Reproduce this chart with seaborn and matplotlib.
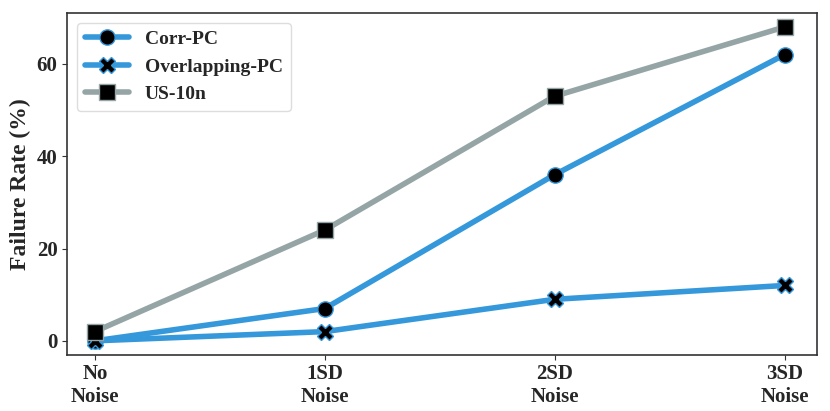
import numpy as np
import matplotlib.pyplot as plt
import pandas as pd
import seaborn as sns

niveis = ["No\nNoise", "1SD\nNoise", "2SD\nNoise", "3SD\nNoise"]
corr_pc = [0, 7, 36, 62]
overlapping_pc = [0, 2, 9, 12]
us_10n = [2, 24, 53, 68]

series = {"Corr-PC": corr_pc, "Overlapping-PC": overlapping_pc, "US-10n": us_10n}
linhas = []
for nome, valores in series.items():
    for i, v in enumerate(valores):
        linhas.append({"x": i, "taxa": v, "metodo": nome})
df = pd.DataFrame(linhas)

sns.set_style("ticks")
plt.rcParams['font.family'] = ['Liberation Serif', 'DejaVu Serif']
plt.rcParams['font.weight'] = 'bold'

cores = {"Corr-PC": "#3498db", "Overlapping-PC": "#3498db", "US-10n": "#95a5a6"}
marcadores = {"Corr-PC": "o", "Overlapping-PC": "X", "US-10n": "s"}

fig, ax = plt.subplots(figsize=(8.3, 4.11), dpi=100)
sns.lineplot(data=df, x="x", y="taxa", hue="metodo", style="metodo",
             palette=cores, markers=marcadores, dashes=False, linewidth=4,
             markersize=11, ax=ax)
for ln in ax.lines:
    ln.set_markerfacecolor("black")
    ln.set_markeredgecolor(ln.get_color())
    ln.set_markeredgewidth(1)

ax.set_xticks(range(len(niveis)))
ax.set_xticklabels(niveis)
ax.set_xlim(-0.12, 3.14)
ax.set_ylim(-3, 71)
ax.set_yticks([0, 20, 40, 60])
ax.set_xlabel("")
ax.set_ylabel("Failure Rate (%)", fontsize=17, fontweight="bold")
ax.tick_params(labelsize=15, color="#333333")
for lab in ax.get_xticklabels() + ax.get_yticklabels():
    lab.set_fontweight("bold")
for s in ax.spines.values():
    s.set_color("#333333")
    s.set_linewidth(1.2)

leg = ax.legend(loc="upper left", fontsize=14, framealpha=1, edgecolor="#dddddd",
                handlelength=2.3)
for h in leg.legend_handles:
    h.set_markerfacecolor("black")
    h.set_markeredgecolor(h.get_color())
for t in leg.get_texts():
    t.set_fontweight("bold")

plt.subplots_adjust(left=0.081, right=0.984, top=0.968, bottom=0.137)
plt.savefig("out.png")
